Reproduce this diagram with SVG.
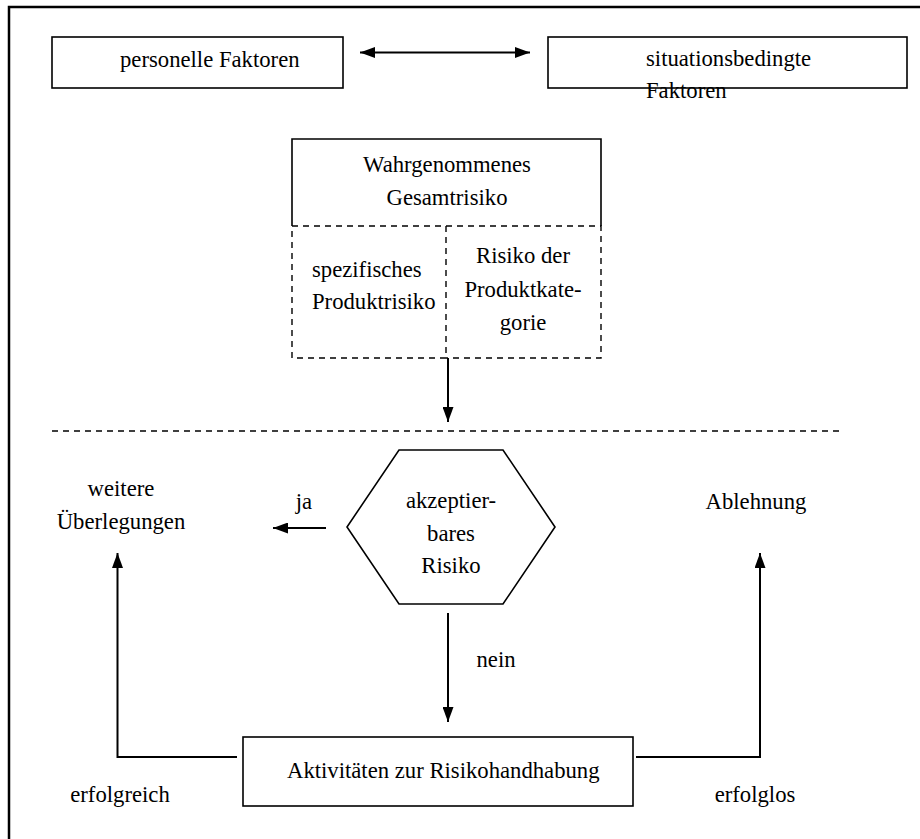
<svg xmlns="http://www.w3.org/2000/svg" width="920" height="839" viewBox="0 0 920 839">
  <style>
    text { font-family: 'Liberation Serif', 'Times New Roman', serif; font-size: 22.7px; fill: #000; }
    .mid { text-anchor: middle; }
    .box { fill: #fff; stroke: #000; stroke-width: 1.6; }
    .solid { fill: none; stroke: #000; stroke-width: 1.6; }
    .dash { fill: none; stroke: #000; stroke-width: 1.4; stroke-dasharray: 6 5; }
    .conn { fill: none; stroke: #000; stroke-width: 2; }
  </style>
  <defs>
    <marker id="head" markerUnits="userSpaceOnUse" markerWidth="15" markerHeight="11" refX="15" refY="5.5" orient="auto-start-reverse">
      <path d="M0,0 L15,5.5 L0,11 z" fill="#000"/>
    </marker>
  </defs>

  <rect width="920" height="839" fill="#fff"/>
  <!-- outer frame (open to the right and bottom) -->
  <path d="M9,839 V7 H920" fill="none" stroke="#000" stroke-width="2.5"/>

  <g id="personelle">
    <rect class="box" x="52" y="37" width="291" height="51"/>
    <text x="120" y="67">personelle Faktoren</text>
  </g>

  <g id="situationsbedingt">
    <rect class="box" x="548" y="37" width="359" height="51"/>
    <text x="646" y="66">situationsbedingte</text>
    <text x="646" y="98">Faktoren</text>
  </g>

  <g id="gesamtrisiko">
    <path class="solid" d="M292,226 V139 H601 V226"/>
    <text class="mid" x="447" y="172">Wahrgenommenes</text>
    <text class="mid" x="447" y="205">Gesamtrisiko</text>
  </g>

  <g id="produktrisiko">
    <path class="dash" d="M292,226 H446 V358 H292 Z"/>
    <text x="312" y="277">spezifisches</text>
    <text x="312" y="309">Produktrisiko</text>
  </g>

  <g id="kategorierisiko">
    <path class="dash" d="M446,226 H601 V358 H446"/>
    <text class="mid" x="523" y="263">Risiko der</text>
    <text class="mid" x="523" y="297">Produktkate-</text>
    <text class="mid" x="523" y="330">gorie</text>
  </g>

  <!-- separator -->
  <line class="dash" x1="52" y1="431" x2="842" y2="431"/>

  <g id="akzeptabel">
    <polygon class="box" points="399,450 503,450 555,527 503,604 399,604 347,527"/>
    <text class="mid" x="451" y="508">akzeptier-</text>
    <text class="mid" x="451" y="541">bares</text>
    <text class="mid" x="451" y="573">Risiko</text>
  </g>

  <g id="ueberlegungen">
    <text class="mid" x="121" y="496">weitere</text>
    <text class="mid" x="121" y="529">Überlegungen</text>
  </g>

  <g id="ablehnung">
    <text class="mid" x="756" y="509">Ablehnung</text>
  </g>

  <g id="risikohandhabung">
    <rect class="box" x="243" y="737" width="390" height="69"/>
    <text x="287" y="778">Aktivitäten zur Risikohandhabung</text>
  </g>

  <g id="connectors">
    <line class="conn" x1="360" y1="52.5" x2="530" y2="52.5" marker-start="url(#head)" marker-end="url(#head)"/>
    <line class="conn" x1="448" y1="358" x2="448" y2="422" marker-end="url(#head)"/>
    <line class="conn" x1="326" y1="528" x2="273" y2="528" marker-end="url(#head)"/>
    <line class="conn" x1="448" y1="613" x2="448" y2="722" marker-end="url(#head)"/>
    <path class="conn" d="M237,757 H117.5 V553" marker-end="url(#head)"/>
    <path class="conn" d="M636,757 H760 V553" marker-end="url(#head)"/>
    <text x="304" y="509" class="mid">ja</text>
    <text x="496" y="667" class="mid">nein</text>
    <text x="120" y="802" class="mid">erfolgreich</text>
    <text x="755" y="802" class="mid">erfolglos</text>
  </g>
</svg>
